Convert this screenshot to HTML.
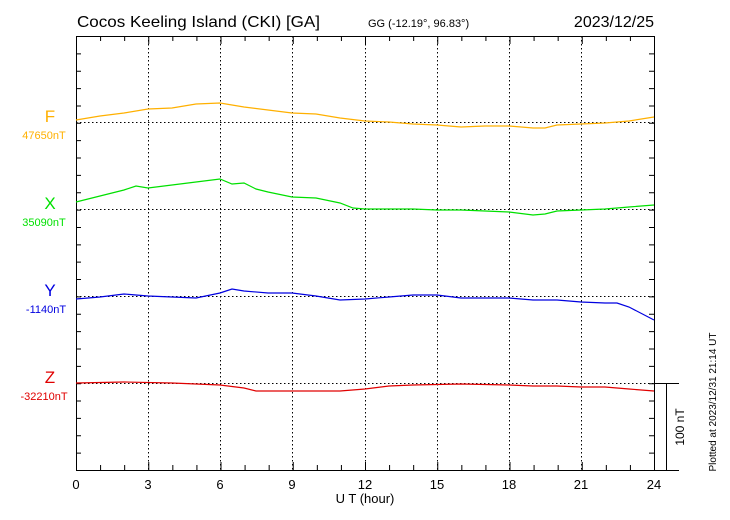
<!DOCTYPE html>
<html><head><meta charset="utf-8"><style>body{margin:0;background:#fff}svg{display:block}text{font-family:"Liberation Sans",Arial,sans-serif}</style></head><body>
<svg width="730" height="520" viewBox="0 0 730 520" xmlns="http://www.w3.org/2000/svg">
<rect width="730" height="520" fill="#fff"/>
<text x="77" y="27" font-size="16" textLength="243" lengthAdjust="spacingAndGlyphs">Cocos Keeling Island (CKI)  [GA]</text>
<text x="368" y="27" font-size="11">GG (-12.19°,  96.83°)</text>
<text x="654" y="27" font-size="16" text-anchor="end">2023/12/25</text>
<g stroke="#000" stroke-width="1" stroke-dasharray="1.5,2.5" fill="none">
<path d="M148.5 36V470M220.5 36V470M292.5 36V470M365.5 36V470M437.5 36V470M509.5 36V470M581.5 36V470"/>
<path d="M76 122.5H654M76 209.5H654M76 296.5H654M76 383.5H654"/>
</g>
<g stroke="#000" stroke-width="1" fill="none">
<rect x="76.5" y="36.5" width="578" height="434"/>
<path d="M654 470.5H679M654 383.5H679M666.5 383V470"/>
</g>
<g stroke="#000" stroke-width="1" id="ticks"></g>
<g fill="none" stroke-width="1.2">
<polyline stroke="#ffb000" points="76,120 100,116 124,113 148,109 172,108 196,104 220,103 232,105 244,107 268,110 292,113 316,114 340,118 365,121 389,122 413,124 437,125 461,127 485,126 509,126 533,128 545,128 557,125 581,124 605,123 629,121 654,117"/>
<polyline stroke="#00e000" points="76,202 100,196 124,190 136,186 148,188 172,185 196,182 220,179 232,184 244,183 256,189 268,192 292,197 316,198 340,203 353,208 365,209 413,209 437,210 461,210 485,211 509,212 533,215 545,214 557,211 581,210 605,209 629,207 654,205"/>
<polyline stroke="#0000e0" points="76,299 100,297 124,294 148,296 172,297 196,298 220,293 232,289 244,291 268,293 292,293 316,296 340,300 365,299 389,297 413,295 437,295 461,298 485,298 509,298 533,300 557,300 581,302 605,303 617,303 629,307 654,320"/>
<polyline stroke="#e00000" points="76,383 124,382 172,383 220,385 244,388 256,391 268,391 316,391 340,391 365,389 389,386 413,385 461,384 509,385 533,386 557,386 581,387 605,387 629,389 654,391"/>
</g>
<g font-size="11" text-anchor="middle">
<text x="50" y="122" font-size="17" fill="#ffb000">F</text><text x="44" y="139" fill="#ffb000">47650nT</text>
<text x="50" y="209" font-size="17" fill="#00e000">X</text><text x="44" y="226" fill="#00e000">35090nT</text>
<text x="50" y="296" font-size="17" fill="#0000e0">Y</text><text x="46" y="313" fill="#0000e0">-1140nT</text>
<text x="50" y="383" font-size="17" fill="#e00000">Z</text><text x="44" y="400" fill="#e00000">-32210nT</text>
</g>
<g font-size="13" text-anchor="middle">
<text x="76" y="489">0</text><text x="148" y="489">3</text><text x="220" y="489">6</text><text x="292" y="489">9</text><text x="365" y="489">12</text><text x="437" y="489">15</text><text x="509" y="489">18</text><text x="581" y="489">21</text><text x="654" y="489">24</text>
<text x="365" y="503">U T (hour)</text>
</g>
<text transform="translate(684,427) rotate(-90)" font-size="12" text-anchor="middle">100 nT</text>
<text transform="translate(716,402) rotate(-90)" font-size="10" text-anchor="middle">Plotted at 2023/12/31 21:14 UT</text>
<script>
var g=document.getElementById('ticks'),s='';
for(var h=1;h<24;h++){var x=76.5+h*578/24;s+='M'+x+' 470V'+(h%3?465:462)+'M'+x+' 36V'+(h%3?41:44);}
for(var k=1;k<25;k++){var y=36.5+k*434/25;s+='M76 '+y+'H81M654 '+y+'H649';}
var p=document.createElementNS('http://www.w3.org/2000/svg','path');p.setAttribute('d',s);g.appendChild(p);
</script>
</svg>
</body></html>
